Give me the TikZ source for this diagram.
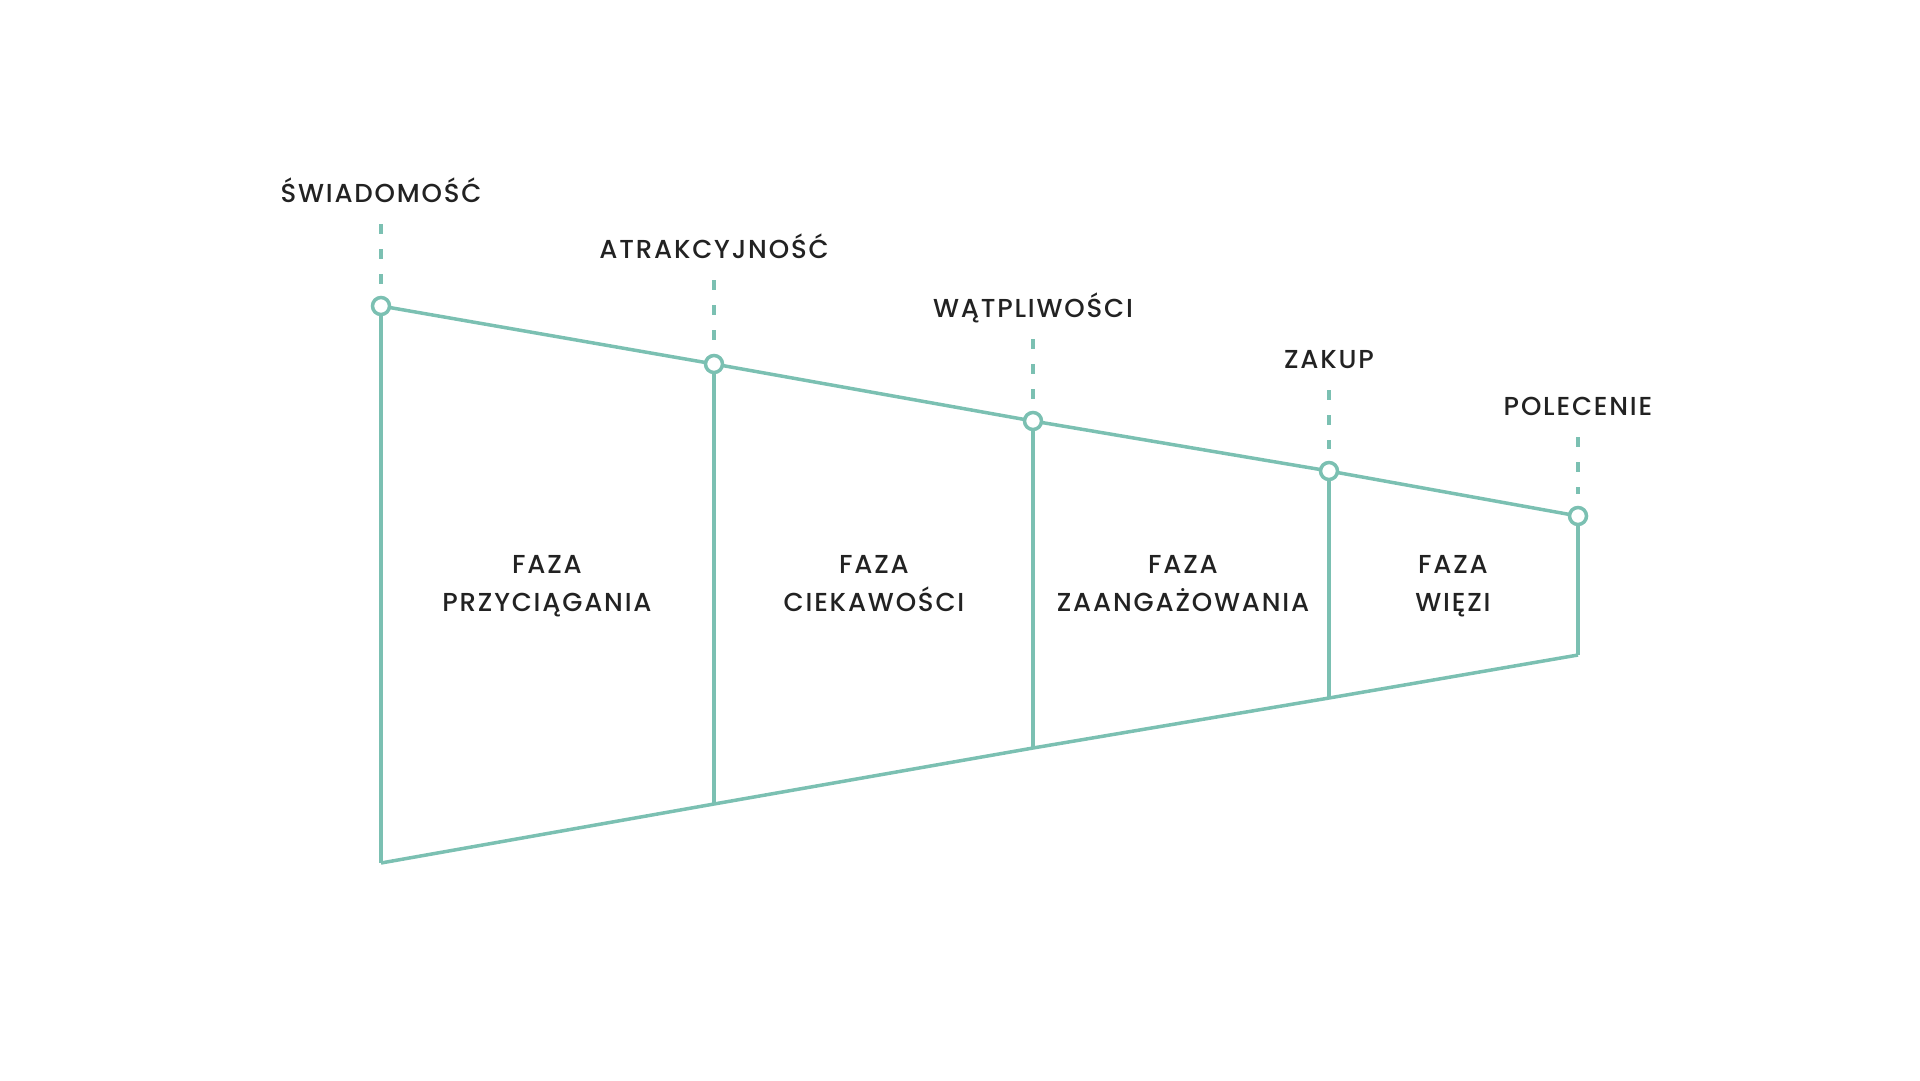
\documentclass[tikz,border=0pt]{standalone}
\usepackage{fontspec}
\setmainfont{Poppins Medium}[LetterSpace=7]
\definecolor{funnel}{HTML}{7BC0B2}
\definecolor{ink}{HTML}{222222}

\begin{document}
\begin{tikzpicture}[x=1pt, y=-1pt, line width=3.5pt,
	stagedot/.style={circle, draw=funnel, fill=white, line width=3.5pt, inner sep=0pt, minimum size=17pt},
	stagename/.style={anchor=base, font=\fontsize{26}{26}\selectfont, text=ink, inner sep=0pt},
	phasename/.style={anchor=north, align=center, font=\fontsize{26}{38}\selectfont, text=ink, inner sep=0pt},
	guide/.style={draw=funnel, line width=3.5pt, dash pattern=on 10pt off 15pt, shorten <=22pt, shorten >=22pt}]
	\useasboundingbox (0, 0) rectangle (1920, 1080);
	
	% top edge of the funnel
	\coordinate (p1) at (381, 306);
	\coordinate (p2) at (714, 364);
	\coordinate (p3) at (1033, 421);
	\coordinate (p4) at (1329, 471);
	\coordinate (p5) at (1578, 516);
	% bottom edge of the funnel
	\coordinate (b1) at (381, 863);
	\coordinate (b2) at (714, 804);
	\coordinate (b3) at (1033, 748);
	\coordinate (b4) at (1329, 698);
	\coordinate (b5) at (1578, 655);
	
	\draw[funnel] (p1) -- (p2) -- (p3) -- (p4) -- (p5);
	\draw[funnel] (b1) -- (b2) -- (b3) -- (b4) -- (b5);
	\foreach \i in {1,...,5}
		\draw[funnel] (p\i) -- (b\i);
	
	% stage names above the dots
	\node[stagename] (s1) at (381, 202) {ŚWIADOMOŚĆ};
	\node[stagename] (s2) at (714, 258) {ATRAKCYJNOŚĆ};
	\node[stagename] (s3) at (1033, 317) {WĄTPLIWOŚCI};
	\node[stagename] (s4) at (1329, 368) {ZAKUP};
	\node[stagename] (s5) at (1578, 415) {POLECENIE};
	
	\foreach \i in {1,...,5} {
		\draw[guide] (s\i.base) -- (p\i);
		\node[stagedot] (d\i) at (p\i) {};
	}
	
	% phases between the stages
	\node[phasename] (f1) at (547, 554) {FAZA\\PRZYCIĄGANIA};
	\node[phasename] (f2) at (874, 554) {FAZA\\CIEKAWOŚCI};
	\node[phasename] (f3) at (1183, 554) {FAZA\\ZAANGAŻOWANIA};
	\node[phasename] (f4) at (1453, 554) {FAZA\\WIĘZI};
\end{tikzpicture}
\end{document}
